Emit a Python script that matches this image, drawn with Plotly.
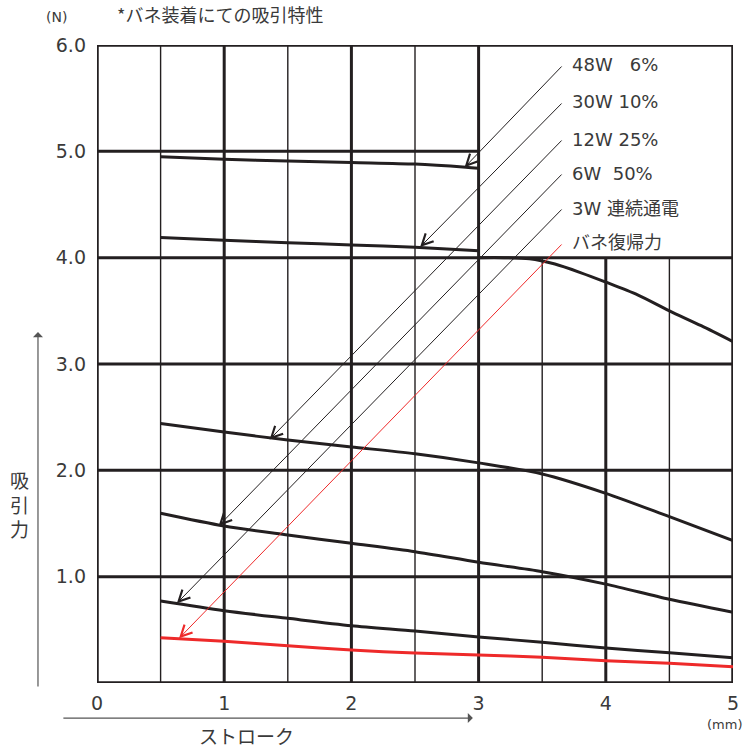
import plotly.graph_objects as go

# ---------------- data ----------------
stroke = [0.5, 1.0, 1.5, 2.0, 2.5, 3.0, 3.5, 4.0, 4.5, 5.0]

stroke_48w = [0.5, 1.0, 1.5, 2.0, 2.5, 2.9, 3.0]
force_48w = [4.95, 4.925, 4.91, 4.895, 4.88, 4.85, 4.84]

stroke_30w = [0.5, 1.0, 1.5, 2.0, 2.5, 3.0]
force_30w = [4.19, 4.163, 4.14, 4.12, 4.098, 4.066]

stroke_tail = [3.0, 3.2, 3.4, 3.6, 3.8, 4.0, 4.25, 4.5, 4.75, 5.0]
force_tail = [4.0, 4.0, 3.99, 3.94, 3.86, 3.77, 3.65, 3.50, 3.36, 3.21]

force_12w = [2.44, 2.36, 2.285, 2.22, 2.155, 2.07, 1.966, 1.784, 1.564, 1.34]
force_6w = [1.596, 1.476, 1.392, 1.314, 1.235, 1.135, 1.047, 0.93, 0.787, 0.665]
force_3w = [0.771, 0.68, 0.608, 0.539, 0.489, 0.433, 0.383, 0.329, 0.285, 0.238]
force_spring = [0.426, 0.392, 0.351, 0.31, 0.282, 0.263, 0.242, 0.21, 0.185, 0.153]

labels = ["48W\u00a0\u00a0\u00a06%", "30W 10%", "12W 25%", "6W\u00a0\u00a050%", "3W 連続通電", "バネ復帰力"]
label_colors = ["#231f20", "#231f20", "#231f20", "#231f20", "#231f20", "#ee2a2a"]
leader_tail_x = [3.664, 3.664, 3.664, 3.664, 3.664, 3.664]
leader_tail_y = [5.812, 5.464, 5.116, 4.796, 4.467, 4.138]
leader_head_x = [2.89, 2.54, 1.357, 0.956, 0.628, 0.645]
leader_head_y = [4.85, 4.10, 2.29, 1.477, 0.75, 0.42]
label_x = 3.715

x_ticks = [0, 1, 2, 3, 4, 5]
x_ticktext = ["0", "1", "2", "3", "4", "5"]
y_ticks = [1, 2, 3, 4, 5, 6]
y_ticktext = ["1.0", "2.0", "3.0", "4.0", "5.0", "6.0"]

# grid definition
full_v = [0.5, 1.0, 1.5, 2.0, 2.5, 3.0]
short_v = [3.5, 4.0, 4.5]
full_h = [1, 2, 3, 4]
short_h = [5]

DARK = "#231f20"
RED = "#ee2a2a"
TXT = "#3a3a3a"
FONT = "DejaVu Sans, Noto Sans CJK JP, sans-serif"
CJK = "Noto Sans CJK JP, sans-serif"

fig = go.Figure()

def curve(x, y, color):
    fig.add_trace(go.Scatter(x=x, y=y, mode="lines",
                             line=dict(color=color, width=3, shape="spline", smoothing=0.8),
                             hoverinfo="skip", showlegend=False))

curve(stroke_48w, force_48w, DARK)
curve(stroke_30w, force_30w, DARK)
curve(stroke_tail, force_tail, DARK)
curve(stroke, force_12w, DARK)
curve(stroke, force_6w, DARK)
curve(stroke, force_3w, DARK)
curve(stroke, force_spring, RED)

shapes = []
for xv in full_v:
    w = 3 if float(xv).is_integer() else 1.4
    shapes.append(dict(type="line", x0=xv, x1=xv, y0=0, y1=6, xref="x", yref="y",
                       line=dict(color=DARK, width=w), layer="below"))
for xv in short_v:
    w = 3 if float(xv).is_integer() else 1.4
    shapes.append(dict(type="line", x0=xv, x1=xv, y0=0, y1=4, xref="x", yref="y",
                       line=dict(color=DARK, width=w), layer="below"))
for yv in full_h:
    shapes.append(dict(type="line", x0=0, x1=5, y0=yv, y1=yv, xref="x", yref="y",
                       line=dict(color=DARK, width=3), layer="below"))
for yv in short_h:
    shapes.append(dict(type="line", x0=0, x1=3, y0=yv, y1=yv, xref="x", yref="y",
                       line=dict(color=DARK, width=3), layer="below"))
shapes.append(dict(type="rect", x0=0, x1=5, y0=0, y1=6, xref="x", yref="y",
                   line=dict(color=DARK, width=3.5), layer="below"))

annotations = []
for i in range(len(labels)):
    annotations.append(dict(x=leader_head_x[i], y=leader_head_y[i], xref="x", yref="y",
                            ax=leader_tail_x[i], ay=leader_tail_y[i], axref="x", ayref="y",
                            text="", showarrow=True, arrowhead=5, arrowsize=2.2,
                            arrowwidth=1, arrowcolor=label_colors[i]))
    annotations.append(dict(x=label_x, y=leader_tail_y[i], xref="x", yref="y",
                            text=labels[i], showarrow=False, xanchor="left", yanchor="middle",
                            font=dict(family=FONT, size=18, color=TXT)))

# title & unit labels (paper coordinates)
annotations.append(dict(x=0.0283, y=1.0486, xref="paper", yref="paper", text="*バネ装着にての吸引特性",
                        showarrow=False, xanchor="left", yanchor="middle",
                        font=dict(family=CJK, size=18, color=TXT)))
annotations.append(dict(x=-0.0629, y=1.0439, xref="paper", yref="paper", text="(N)",
                        showarrow=False, xanchor="center", yanchor="middle",
                        font=dict(family=FONT, size=14, color=TXT)))
annotations.append(dict(x=0.9874, y=-0.0643, xref="paper", yref="paper", text="(mm)",
                        showarrow=False, xanchor="center", yanchor="middle",
                        font=dict(family=FONT, size=13, color=TXT)))
annotations.append(dict(x=0.2358, y=-0.0825, xref="paper", yref="paper", text="ストローク",
                        showarrow=False, xanchor="center", yanchor="middle",
                        font=dict(family=CJK, size=19, color=TXT)))
annotations.append(dict(x=-0.1211, y=0.2806, xref="paper", yref="paper", text="吸<br>引<br>力",
                        showarrow=False, xanchor="center", yanchor="middle",
                        font=dict(family=CJK, size=19, color=TXT)))
# axis direction arrows
annotations.append(dict(x=-0.0928, y=0.550, xref="paper", yref="paper", ax=0, ay=356,
                        text="", showarrow=True, arrowhead=1, arrowsize=1.4, arrowwidth=1.2,
                        arrowcolor="#555555"))
annotations.append(dict(x=0.591, y=-0.0549, xref="paper", yref="paper", ax=-411, ay=0,
                        text="", showarrow=True, arrowhead=1, arrowsize=1.4, arrowwidth=1.2,
                        arrowcolor="#555555"))

fig.update_layout(
    width=750, height=749,
    margin=dict(l=97, r=17, t=45, b=66),
    paper_bgcolor="white", plot_bgcolor="white",
    shapes=shapes, annotations=annotations, showlegend=False,
    xaxis=dict(range=[0, 5], tickvals=x_ticks, ticktext=x_ticktext, showgrid=False,
               zeroline=False, showline=False, ticks="", ticklabelstandoff=7,
               tickfont=dict(family=FONT, size=19, color=TXT), fixedrange=True),
    yaxis=dict(range=[0, 6], tickvals=y_ticks, ticktext=y_ticktext, showgrid=False,
               zeroline=False, showline=False, ticks="", ticklabelstandoff=10,
               tickfont=dict(family=FONT, size=19, color=TXT), fixedrange=True),
)

fig.write_html("out.html", config={"displayModeBar": False},
               post_script="document.body.style.margin='0';document.body.style.padding='0';")
